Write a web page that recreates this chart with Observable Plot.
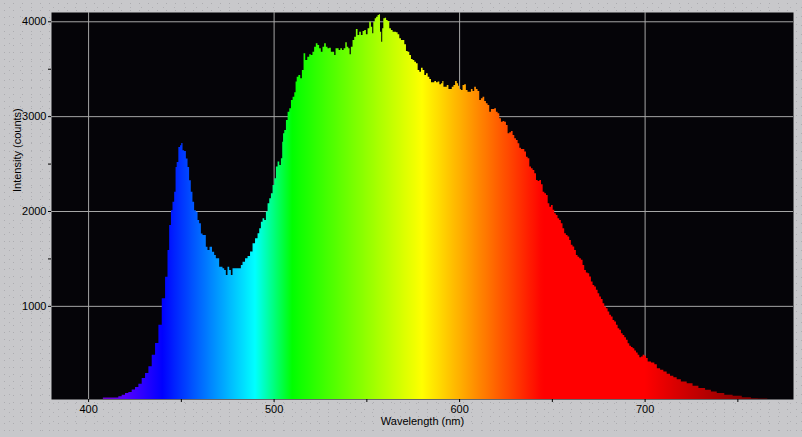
<!DOCTYPE html>
<html>
<head>
<meta charset="utf-8">
<script src="https://cdn.jsdelivr.net/npm/d3@7"></script>
<script src="https://cdn.jsdelivr.net/npm/@observablehq/plot@0.6"></script>
<style>
  html, body { margin: 0; padding: 0; }
  body {
    width: 802px; height: 437px; overflow: hidden;
    background-color: #c8c8cb;
    background-image:
      radial-gradient(circle, #acacb0 0.6px, transparent 1px),
      radial-gradient(circle, #b0b0b4 0.6px, transparent 1px);
    background-size: 9px 7px, 11px 9px;
    background-position: 0 0, 4px 3px;
  }
  svg { display: block; }
</style>
</head>
<body>
<div id="chart"></div>
<script>
// Wavelength (nm) of each reading
const wavelengths = [
  380, 395, 405, 410.9, 415.4, 417.2, 419.0, 420.8, 422.6, 424.4, 426.2, 428.0, 429.8, 431.6, 433.4, 435.2,
  437.0, 438.8, 440.6, 442.4, 443.2, 444.2, 445.1, 445.9, 446.9, 447.4, 448.1, 449.2, 449.9, 450.5, 451.3,
  452.2, 453.2, 454.0, 454.9, 455.8, 456.7, 457.6, 458.6, 459.4, 460.3, 461.3, 462.1, 463.0, 463.9, 464.8,
  466.1, 467.5, 468.4, 469.3, 470.2, 471.1, 472.0, 472.9, 473.8, 474.7, 475.6, 476.5, 477.4, 478.3, 480.1,
  481.9, 482.8, 483.7, 485.5, 486.4,
  488.2, 489.1, 490.9, 491.8, 492.7, 493.6, 494.5, 495.4, 496.3, 497.2, 498.1, 499.0, 499.9, 500.8, 501.7,
  502.6, 503.5, 504.4, 504.9, 505.3, 506.2, 507.1, 508.0, 508.9, 509.8, 510.7, 511.6, 512.1, 512.8, 513.9,
  514.8, 515.7, 516.6, 517.5, 518.8, 519.6, 520.5, 521.4, 522.3, 523.2, 524.1, 525.0, 525.9, 526.8, 527.7,
  528.6, 529.5, 530.4, 531.3, 532.2, 533.1, 533.7, 534.6, 535.5, 536.4, 537.3, 538.2, 539.1, 539.8, 540.7,
  541.2, 542.1, 543.0, 543.9, 544.8, 545.7, 546.6, 547.5, 548.4, 549.3, 550.2, 551.1, 552.0, 552.9, 553.4,
  554.1, 554.9, 555.6, 556.5, 557.0, 557.7, 558.3, 558.8, 559.5, 560.3, 561.0, 561.9, 562.8, 563.7, 564.6,
  565.5, 566.4, 567.3, 568.2, 569.1, 570.0, 570.9, 571.8, 572.7, 573.6, 574.5, 575.4, 576.3, 577.2, 578.1,
  579.0, 579.9, 580.8, 581.7, 582.6, 583.5, 584.4, 585.3, 586.2, 587.1, 588.0, 588.9, 589.8, 590.7, 591.2,
  591.9, 593.0, 593.7, 594.8, 595.5, 596.6, 597.3, 598.4, 599.1, 599.8, 600.5, 601.4, 602.3, 603.2, 604.1,
  605.0, 605.9, 606.8, 607.7, 608.6, 609.5, 610.4, 611.3, 612.2, 613.1, 614.0, 614.9, 615.8, 616.7, 617.6,
  618.5, 619.4, 620.3, 621.2, 622.1, 623.0, 623.9, 624.8, 625.7, 626.6, 627.5, 628.4, 629.3, 630.2, 631.1,
  632.0, 632.9, 633.8, 634.7, 635.6, 636.5, 637.4, 638.3, 639.2, 640.1, 641.0, 641.9, 642.8, 643.7, 644.6,
  645.5, 646.4, 647.3, 648.2, 649.1, 650.0, 650.9, 651.7, 652.6, 653.5, 654.4, 655.3, 656.2, 657.1, 658.0,
  658.9, 659.8, 660.7, 661.6, 662.5, 663.4, 664.3, 665.2, 666.1, 667.0, 667.9, 668.8, 669.7, 670.6, 671.5,
  672.4, 673.3, 674.2, 675.1, 676.0, 676.9, 677.8, 678.7, 679.6, 680.5, 681.4, 682.3, 683.2, 684.1, 685.0,
  685.9, 686.8, 687.7, 688.6, 689.5, 690.4, 691.3, 692.2, 693.1, 694.0, 694.9, 695.8, 696.7, 697.6, 698.5,
  699.4, 700.3, 701.2, 702.1, 704.8, 705.7, 707.5, 709.2, 711.0, 712.8, 714.6, 716.4, 718.2, 720.9, 724.5,
  727.2, 730.8, 734.4, 737.1, 740.7, 745.2, 749.7, 755.1, 759.6, 762.3, 770, 780
];
// Intensity (counts) read at each wavelength
const counts = [
  10, 12, 18, 33, 35, 46, 64, 82, 93, 117, 145, 180, 240, 292, 362, 485,
  608, 800, 1081, 1308, 1589, 1852, 2009, 2097, 2202, 2465, 2517, 2675, 2693, 2717, 2640,
  2633, 2553, 2465, 2325, 2202, 2097, 2009, 1992, 1904, 1870, 1764, 1747, 1747, 1624, 1589,
  1624, 1571, 1536, 1502, 1502, 1413, 1413, 1396, 1379, 1326, 1413, 1379, 1326, 1396, 1396,
  1396, 1431, 1466, 1502, 1526,
  1572, 1661, 1713, 1766, 1819, 1888, 1924, 1906, 1994, 2082, 2135, 2188, 2275, 2346, 2468,
  2521, 2486, 2556, 2731, 2820, 2855, 2960, 3047, 3083, 3171, 3205, 3252, 3364, 3416, 3434,
  3399, 3487, 3663, 3592, 3627, 3652, 3645, 3680, 3732, 3768, 3750, 3715, 3680, 3732, 3768,
  3732, 3715, 3722, 3680, 3680, 3645, 3715, 3715, 3698, 3715, 3698, 3715, 3779, 3732, 3715,
  3652, 3732, 3803, 3838, 3919, 3856, 3891, 3856, 3898, 3908, 3863, 3926, 3996, 3943, 3873,
  3996, 4031, 4049, 4067, 4074, 3891, 3785, 3926, 4031, 4038, 4014, 4003, 3926, 3908, 3891,
  3891, 3884, 3863, 3821, 3803, 3803, 3758, 3687, 3680, 3645, 3603, 3592, 3574, 3557, 3487,
  3469, 3511, 3487, 3434, 3452, 3416, 3392, 3357, 3357, 3371, 3357, 3364, 3336, 3346, 3371,
  3311, 3311, 3329, 3287, 3287, 3311, 3329, 3371, 3346, 3321, 3287, 3276, 3329, 3336, 3276,
  3258, 3258, 3287, 3265, 3311, 3287, 3265, 3171, 3189, 3205, 3160, 3136, 3118, 3047, 3076,
  3076, 3083, 3047, 3030, 2978, 2942, 2949, 2942, 2907, 2820, 2830, 2844, 2802, 2767, 2749,
  2714, 2668, 2654, 2654, 2626, 2573, 2556, 2468, 2451, 2433, 2398, 2328, 2317, 2328, 2282,
  2204, 2188, 2170, 2082, 2046, 2064, 2012, 1977, 1959, 1924, 1906, 1871, 1819, 1766, 1748,
  1730, 1695, 1643, 1625, 1590, 1537, 1519, 1502, 1485, 1432, 1379, 1351, 1345, 1309, 1256,
  1221, 1203, 1169, 1134, 1098, 1071, 1028, 993, 976, 940, 905, 887, 852, 835, 800,
  765, 747, 712, 694, 670, 642, 607, 579, 565, 554, 529, 508, 484, 459, 466,
  484, 473, 449, 413, 403, 385, 343, 326, 308, 283, 262, 248, 227, 202, 185,
  157, 133, 115, 97, 80, 62, 51, 37, 27, 22, 15, 12
];
const xMajorTicks = [400, 500, 600, 700];
const xMinorTicks = [450, 550, 650, 750];
const yMajorTicks = [1000, 2000, 3000, 4000];
const yMinorTicks = [1500, 2500, 3500];
const xLabel = "Wavelength (nm)";
const yLabel = "Intensity (counts)";

const data = wavelengths.map((w, i) => ({w, c: counts[i]}));

// visible-spectrum colour for a wavelength (style only)
function waveColor(w) {
  let r = 0, g = 0, b = 0;
  if (w < 440) { r = -(w - 440) / 60; b = 1; }
  else if (w < 490) { g = (w - 440) / 50; b = 1; }
  else if (w < 510) { g = 1; b = -(w - 510) / 20; }
  else if (w < 580) { r = (w - 510) / 70; g = 1; }
  else if (w < 645) { r = 1; g = -(w - 645) / 65; }
  else { r = 1; }
  let f = 1;
  if (w < 420) f = 0.3 + 0.7 * (w - 380) / 40;
  else if (w > 700) f = 0.3 + 0.7 * (780 - w) / 80;
  const c = v => Math.round(255 * Math.max(0, Math.min(1, v * f)));
  return `rgb(${c(r)},${c(g)},${c(b)})`;
}

const chart = Plot.plot({
  width: 802,
  height: 437,
  marginLeft: 51,
  marginRight: 9,
  marginTop: 12,
  marginBottom: 38,
  style: {background: "transparent", fontFamily: "'Liberation Sans', Arial, sans-serif", fontSize: "11px", color: "#000"},
  x: {domain: [380, 780]},
  y: {domain: [18, 4098]},
  marks: [
    Plot.frame({fill: "#050408", stroke: null}),
    Plot.ruleX(xMajorTicks, {x: d => d, stroke: "#a6a6a6", strokeOpacity: 1}),
    Plot.ruleY(yMajorTicks, {y: d => d, stroke: "#a6a6a6", strokeOpacity: 1}),
    Plot.areaY(data, {x: "w", y: "c", y1: 0, curve: "step", fill: "url(#spectrum)", clip: true, className: "spectrum"}),
    Plot.axisX({ticks: xMajorTicks, tickSize: 3, tickPadding: 3, label: null, tickFormat: d => String(d)}),
    Plot.axisX({ticks: xMinorTicks, tickSize: 3, label: null, tickFormat: () => ""}),
    Plot.axisY({ticks: yMajorTicks, tickSize: 3, tickPadding: 2, label: null, tickFormat: d => String(d)}),
    Plot.axisY({ticks: yMinorTicks, tickSize: 3, label: null, tickFormat: () => ""}),
    Plot.text([xLabel], {frameAnchor: "bottom", dy: 25, text: d => d, fill: "#000"}),
    Plot.text([yLabel], {frameAnchor: "left", dx: -34, dy: -14, rotate: -90, text: d => d, fill: "#000"})
  ]
});

const xs = chart.scale("x");
const svg = d3.select(chart);
const defs = svg.insert("defs", ":first-child");
const grad = defs.append("linearGradient")
  .attr("id", "spectrum")
  .attr("gradientUnits", "userSpaceOnUse")
  .attr("x1", xs.apply(380)).attr("x2", xs.apply(780))
  .attr("y1", 0).attr("y2", 0);
for (let w = 380; w <= 780; w += 2) {
  grad.append("stop").attr("offset", ((w - 380) / 400).toFixed(4)).attr("stop-color", waveColor(w));
}
svg.selectAll(".spectrum path").attr("fill", "url(#spectrum)");

document.getElementById("chart").appendChild(chart);
</script>
</body>
</html>
